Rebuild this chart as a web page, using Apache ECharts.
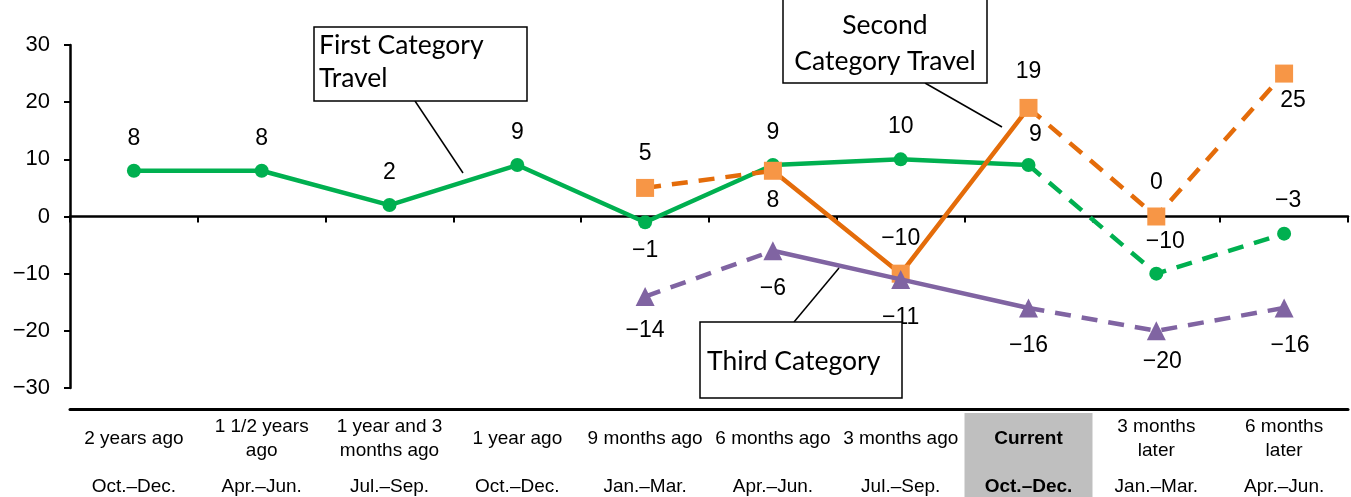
<!DOCTYPE html>
<html>
<head>
<meta charset="utf-8">
<script src="https://cdn.jsdelivr.net/npm/echarts@6/dist/echarts.min.js"></script>
<style>
  html, body { margin: 0; padding: 0; background: #fff; }
  #chart { width: 1351px; height: 497px; }
</style>
</head>
<body>
<div id="chart"></div>
<script>
// Period headings (upper row) and quarter names (lower row)
const periods = ['2 years ago', '1 1/2 years\nago', '1 year and 3\nmonths ago', '1 year ago',
  '9 months ago', '6 months ago', '3 months ago', 'Current', '3 months\nlater', '6 months\nlater'];
const quarters = ['Oct.–Dec.', 'Apr.–Jun.', 'Jul.–Sep.', 'Oct.–Dec.', 'Jan.–Mar.',
  'Apr.–Jun.', 'Jul.–Sep.', 'Oct.–Dec.', 'Jan.–Mar.', 'Apr.–Jun.'];
const currentIndex = 7;

// Diffusion values per category
const firstCategory = [8, 8, 2, 9, -1, 9, 10, 9, -10, -3];
const secondCategory = [null, null, null, null, 5, 8, -10, 19, 0, 25];
const thirdCategory = [null, null, null, null, -14, -6, -11, -16, -20, -16];

const yTicks = [-30, -20, -10, 0, 10, 20, 30];

// Segment ranges [from, to] (inclusive) drawn solid or dashed
const firstSegments = { solid: [[0, 7]], dashed: [[7, 9]] };
const secondSegments = { solid: [[5, 7]], dashed: [[4, 5], [7, 9]] };
const thirdSegments = { solid: [[5, 7]], dashed: [[4, 5], [7, 9]] };

// Value label placement: [position, distance, x-offset]
const firstLabelPlace = [['top', 14, 0], ['top', 14, 0], ['top', 14, 0], ['top', 14, 0], ['bottom', 10, 0],
  ['top', 14, 0], ['top', 14, 0], ['top', 12, 7], ['top', 14, 9], ['top', 14, 4]];
const secondLabelPlace = [null, null, null, null, ['top', 14, 0], ['bottom', 9, 0], ['top', 15, 0],
  ['top', 16, 0], ['top', 13, 0], ['bottom', 7, 9]];
const thirdLabelPlace = [null, null, null, null, ['bottom', 13, 0], ['bottom', 17, 0], ['bottom', 17, 0],
  ['bottom', 17, 0], ['bottom', 10, 6], ['bottom', 17, 6]];

const MINUS = '\u2212';
const fmt = v => (v < 0 ? MINUS + Math.abs(v) : String(v));
const VALUE_FONT = '"Liberation Sans Narrow", "Liberation Sans"';

function slice(values, ranges) {
  return ranges.map(([a, b]) => values.map((v, i) => (i >= a && i <= b ? v : null)));
}

function lineParts(name, values, segs, color, z) {
  const out = [];
  const mk = (data, type) => ({
    type: 'line', name, data, z, silent: true, showSymbol: false, symbol: 'none',
    connectNulls: false, animation: false,
    lineStyle: { color, width: 4.5, type: type === 'dashed' ? [16, 11] : 'solid', cap: 'butt' }
  });
  slice(values, segs.solid).forEach(d => out.push(mk(d, 'solid')));
  slice(values, segs.dashed).forEach(d => out.push(mk(d, 'dashed')));
  return out;
}

function markerSeries(name, values, places, symbol, size, color, z) {
  return {
    type: 'line', name, z, animation: false,
    lineStyle: { width: 0, opacity: 0 },
    symbol, symbolSize: size, showAllSymbol: true,
    itemStyle: { color, opacity: 1 },
    data: values.map((v, i) => {
      if (v === null) return null;
      const p = places[i];
      return {
        value: v,
        label: {
          show: true, position: p[0], distance: p[1], offset: [p[2], 0],
          formatter: () => fmt(v), color: '#000', fontSize: 23, fontFamily: VALUE_FONT
        }
      };
    })
  };
}

const GREEN = '#00b050', ORANGE = '#e46c0a', ORANGE_MK = '#f79646', PURPLE = '#8064a2';

const series = [
  ...lineParts('First Category Travel', firstCategory, firstSegments, GREEN, 2),
  markerSeries('First Category Travel', firstCategory, firstLabelPlace, 'circle', 14, GREEN, 3),
  ...lineParts('Second Category Travel', secondCategory, secondSegments, ORANGE, 4),
  markerSeries('Second Category Travel', secondCategory, secondLabelPlace, 'rect', 18, ORANGE_MK, 5),
  ...lineParts('Third Category', thirdCategory, thirdSegments, PURPLE, 6),
  markerSeries('Third Category', thirdCategory, thirdLabelPlace, 'triangle', 19, PURPLE, 7)
];

const CAT_FONT = 'Liberation Sans';

const option = {
  backgroundColor: '#fff',
  animation: false,
  grid: { left: 70, right: 3, top: 45, bottom: 109, containLabel: false, outerBoundsMode: 'none' },
  xAxis: [
    {
      type: 'category', data: periods, boundaryGap: true,
      axisLine: { onZero: true, lineStyle: { color: '#000', width: 2.5 } },
      axisTick: { show: true, length: 6, lineStyle: { color: '#000', width: 2 } },
      axisLabel: { show: false }, splitLine: { show: false }
    },
    {
      type: 'category', data: periods, position: 'bottom', offset: 51,
      axisLine: { show: false, onZero: false }, axisTick: { show: false },
      axisLabel: {
        interval: 0, margin: 0, verticalAlign: 'middle', color: '#000',
        fontSize: 19, lineHeight: 24, fontFamily: CAT_FONT,
        formatter: (v, i) => (i === currentIndex ? '{cur|' + v + '}' : v),
        rich: {
          cur: {
            fontWeight: 'bold', fontSize: 19, fontFamily: CAT_FONT, color: '#000',
            backgroundColor: '#bfbfbf', width: 128, height: 52, lineHeight: 52, align: 'center'
          }
        }
      }
    },
    {
      type: 'category', data: quarters, position: 'bottom', offset: 99,
      axisLine: { show: false, onZero: false }, axisTick: { show: false },
      axisLabel: {
        interval: 0, margin: 0, verticalAlign: 'middle', color: '#000',
        fontSize: 19, fontFamily: CAT_FONT,
        formatter: (v, i) => (i === currentIndex ? '{cur|' + v + '}' : v),
        rich: {
          cur: {
            fontWeight: 'bold', fontSize: 19, fontFamily: CAT_FONT, color: '#000',
            backgroundColor: '#bfbfbf', width: 128, height: 44, lineHeight: 44, align: 'center'
          }
        }
      }
    },
    {
      type: 'category', data: periods, position: 'bottom', offset: 21,
      axisLine: { show: true, onZero: false, lineStyle: { color: '#000', width: 3 } },
      axisTick: { show: false }, axisLabel: { show: false }
    }
  ],
  yAxis: {
    type: 'value', min: yTicks[0], max: yTicks[yTicks.length - 1], interval: 10,
    axisLine: { show: true, lineStyle: { color: '#000', width: 2.5 } },
    axisTick: { show: true, inside: false, length: 6, lineStyle: { color: '#000', width: 2 } },
    splitLine: { show: false },
    axisLabel: { margin: 20, color: '#000', fontSize: 22, fontFamily: VALUE_FONT, formatter: v => fmt(v) }
  },
  series,
  graphic: [
    // Callout: First Category Travel
    { type: 'line', z: 50, shape: { x1: 415, y1: 101, x2: 463, y2: 173 }, style: { stroke: '#000', lineWidth: 1.5 } },
    { type: 'rect', z: 50, shape: { x: 314, y: 27, width: 213, height: 74 }, style: { fill: '#fff', stroke: '#000', lineWidth: 1.5 } },
    { type: 'text', z: 51, x: 319, y: 62, style: { text: 'First Category\nTravel', font: '26.5px Lato', fill: '#000', lineHeight: 33, verticalAlign: 'middle', align: 'left' } },
    // Callout: Second Category Travel
    { type: 'line', z: 50, shape: { x1: 925, y1: 83, x2: 1002, y2: 127 }, style: { stroke: '#000', lineWidth: 1.5 } },
    { type: 'rect', z: 50, shape: { x: 783, y: -2, width: 204, height: 85 }, style: { fill: '#fff', stroke: '#000', lineWidth: 1.5 } },
    { type: 'text', z: 51, x: 885, y: 43, style: { text: 'Second\nCategory Travel', font: '26.5px Lato', fill: '#000', lineHeight: 36, verticalAlign: 'middle', align: 'center' } },
    // Callout: Third Category
    { type: 'line', z: 50, shape: { x1: 794, y1: 322, x2: 839, y2: 268 }, style: { stroke: '#000', lineWidth: 1.5 } },
    { type: 'rect', z: 50, shape: { x: 700, y: 322, width: 202, height: 76 }, style: { fill: '#fff', stroke: '#000', lineWidth: 1.5 } },
    { type: 'text', z: 51, x: 707, y: 361, style: { text: 'Third Category', font: '26.5px Lato', fill: '#000', verticalAlign: 'middle', align: 'left' } }
  ]
};

const chart = echarts.init(document.getElementById('chart'), null, { renderer: 'canvas' });
chart.setOption(option);
</script>
</body>
</html>
